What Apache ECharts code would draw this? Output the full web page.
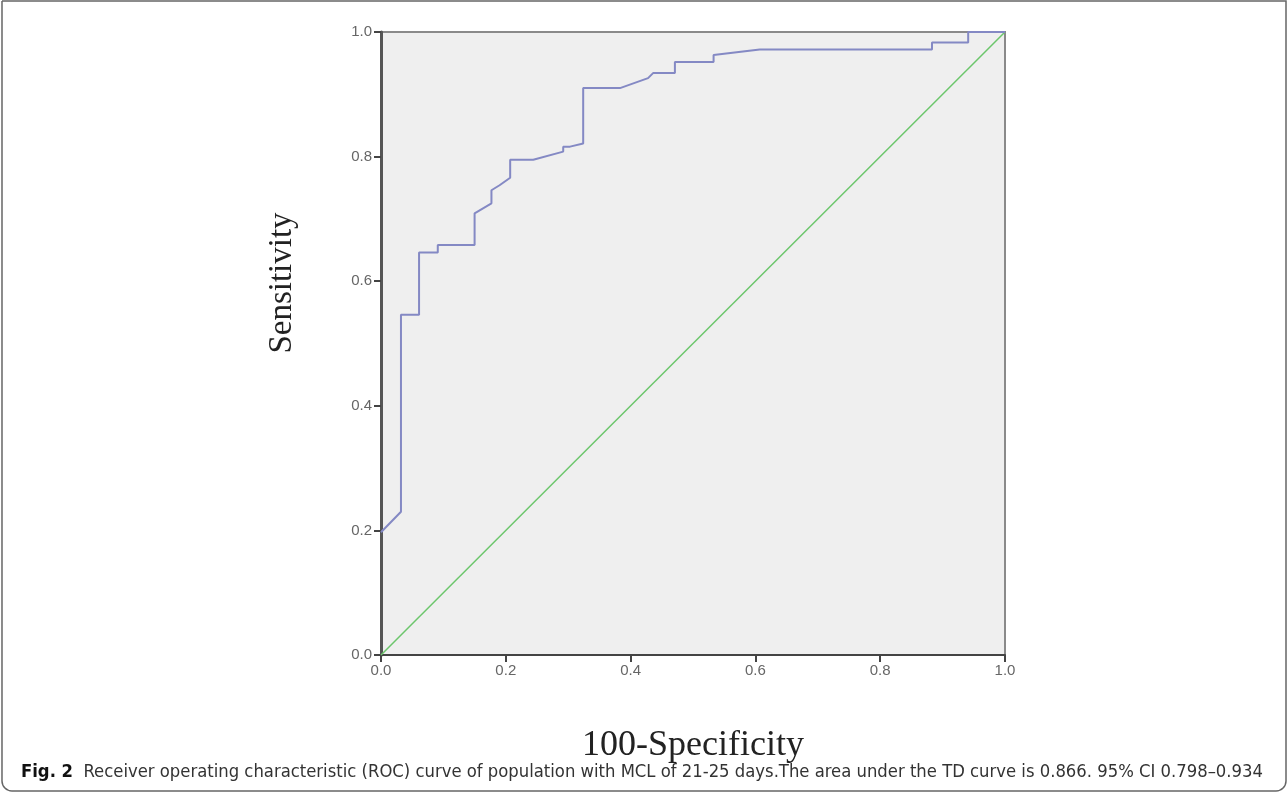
<!DOCTYPE html>
<html>
<head>
<meta charset="utf-8">
<script src="https://cdn.jsdelivr.net/npm/echarts@6/dist/echarts.min.js"></script>
<style>
  html, body { margin: 0; padding: 0; background: #fff; }
  #chart { width: 1288px; height: 793px; }
</style>
</head>
<body>
<div id="chart"></div>
<script>
// ROC curve
const fpr = [0, 0.032, 0.032, 0.061, 0.061, 0.091, 0.091, 0.15, 0.15, 0.177, 0.177, 0.19, 0.207, 0.207, 0.244, 0.292, 0.292, 0.303, 0.324, 0.324, 0.383, 0.428, 0.436, 0.471, 0.471, 0.533, 0.533, 0.607, 0.883, 0.883, 0.941, 0.941, 1.0];
const tpr = [0.197, 0.23, 0.546, 0.546, 0.646, 0.646, 0.658, 0.658, 0.709, 0.725, 0.746, 0.754, 0.766, 0.795, 0.795, 0.808, 0.816, 0.816, 0.821, 0.910, 0.910, 0.926, 0.934, 0.934, 0.952, 0.952, 0.963, 0.972, 0.972, 0.983, 0.983, 1.0, 1.0];
// reference line
const refX = [0, 1];
const refY = [0, 1];
const tickLabels = ["0.0", "0.2", "0.4", "0.6", "0.8", "1.0"];

const caption = "Receiver operating characteristic (ROC) curve of population with MCL of 21-25 days.The area under the TD curve is 0.866. 95% CI 0.798\u20130.934";

var chart = echarts.init(document.getElementById("chart"));
var option = {
  animation: false,
  backgroundColor: "#fff",
  grid: {
    left: 381,
    top: 32,
    right: 283,
    bottom: 138,
    show: true,
    backgroundColor: "#efefef",
    borderColor: "#8a8a8a",
    borderWidth: 2,
  },
  xAxis: {
    type: "value",
    min: 0,
    max: 1,
    interval: 0.2,
    name: "100-Specificity",
    nameLocation: "middle",
    nameGap: 73,
    nameTextStyle: {
      fontFamily: "Liberation Serif",
      fontSize: 36,
      color: "#222",
    },
    axisLine: { show: true, lineStyle: { color: "#444", width: 2 } },
    axisTick: { show: true, length: 7, lineStyle: { color: "#444", width: 2 } },
    axisLabel: {
      color: "#666",
      fontSize: 15,
      fontFamily: "Liberation Sans",
      margin: 8,
      formatter: function (v) { return tickLabels[Math.round(v * 5)]; },
    },
    splitLine: { show: false },
  },
  yAxis: {
    type: "value",
    min: 0,
    max: 1,
    interval: 0.2,
    axisLine: { show: true, lineStyle: { color: "#555", width: 3 } },
    axisTick: { show: true, length: 7, lineStyle: { color: "#444", width: 2 } },
    axisLabel: {
      color: "#666",
      fontSize: 15,
      fontFamily: "Liberation Sans",
      margin: 9,
      formatter: function (v) { return tickLabels[Math.round(v * 5)]; },
    },
    splitLine: { show: false },
  },
  series: [
    {
      type: "line",
      data: refX.map(function (x, i) { return [x, refY[i]]; }),
      showSymbol: false,
      lineStyle: { color: "#6cc66c", width: 1.5 },
      z: 2,
    },
    {
      type: "line",
      data: fpr.map(function (x, i) { return [x, tpr[i]]; }),
      showSymbol: false,
      lineStyle: { color: "#8489c4", width: 2 },
      z: 3,
    },
  ],
  graphic: [
    {
      type: "rect",
      shape: { x: 2, y: 1, width: 1284, height: 790, r: [0, 0, 10, 10] },
      style: { fill: "none", stroke: "#666", lineWidth: 1.5 },
      silent: true,
    },
    {
      // y axis title sits above the axis middle in the original
      type: "text",
      x: 282,
      y: 283,
      rotation: Math.PI / 2,
      style: {
        text: "Sensitivity",
        fontFamily: "Liberation Serif",
        fontSize: 33,
        fill: "#222",
        align: "center",
        verticalAlign: "middle",
      },
    },
    {
      type: "text",
      left: 21,
      top: 763,
      style: {
        rich: {
          b: { fontFamily: "DejaVu Sans Condensed", fontWeight: "bold", fontSize: 18.3, fill: "#111" },
          t: { fontFamily: "DejaVu Sans Condensed", fontSize: 18.3, fill: "#333" },
        },
        text: "{b|Fig. 2}{t|  " + caption + "}",
      },
    },
  ],
};
chart.setOption(option);
</script>
</body>
</html>
